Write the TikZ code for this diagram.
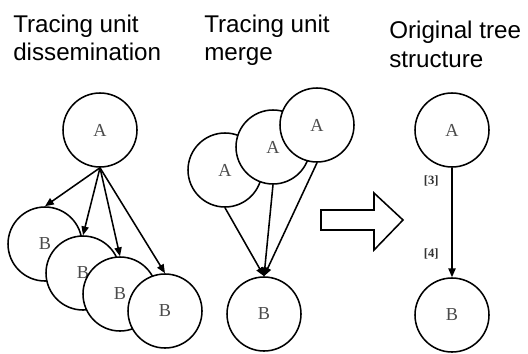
\documentclass[tikz,border=0pt]{standalone}
\usepackage{fontspec}
\setmainfont{Liberation Serif}
\newfontfamily\headfont{Liberation Sans}
\usepackage{tikz}
\usetikzlibrary{arrows, arrows.meta}
\usetikzlibrary{positioning}
\usepackage{xcolor}

\begin{document}
\begin{tikzpicture}[
	unit/.style={circle, draw, fill=white, line width=1.1pt, minimum size=1.85cm, inner sep=0pt,
		font=\fontsize{13}{15}\selectfont, text=black!70},
	head/.style={anchor=north west, inner sep=0pt, align=left,
		font=\headfont\fontsize{17.2}{20.6}\selectfont},
	link/.style={line width=1.1pt, -{Triangle[length=0.22cm,width=0.18cm]}},
	tag/.style={font=\bfseries\fontsize{9}{10}\selectfont, text=black!80}
]
\useasboundingbox (0,0) rectangle (13.2,8.825);

\node[head] (t1) at (0.325,8.47) {Tracing unit\\dissemination};
\node[head] (t2) at (5.1,8.47) {Tracing unit\\merge};
\node[head] (t3) at (9.725,8.31) {Original tree\\structure};

\node[unit] (a) at (2.5,5.575) {A};
\node[unit] (b1) at (1.125,2.725) {B};
\node[unit] (b2) at (2.075,2.0) {B};
\node[unit] (b3) at (3.0,1.475) {B};
\node[unit] (b4) at (4.125,1.05) {B};
\draw[link] (a.south) -- (b1.north);
\draw[link] (a.south) -- (b2.north);
\draw[link] (a.south) -- (b3.north);
\draw[link] (a.south) -- (b4.north);

\node[unit] (m1) at (5.625,4.575) {A};
\node[unit] (m2) at (6.825,5.15) {A};
\node[unit] (m3) at (7.925,5.7) {A};
\node[unit] (mb) at (6.6,0.975) {B};
\draw[link] (m1.south) -- (mb.north);
\draw[link] (m2.south) -- (mb.north);
\draw[link] (m3.south) -- (mb.north);

\draw[line width=1.1pt, line join=miter] (8.025,3.575) -- (9.35,3.575) -- (9.35,4.0)
	-- (10.075,3.325) -- (9.35,2.575) -- (9.35,3.075) -- (8.025,3.075) -- cycle;

\node[unit] (ra) at (11.3,5.575) {A};
\node[unit] (rb) at (11.3,0.95) {B};
\draw[link] (ra.south) -- node[tag, pos=0.12, left=0.2cm] {[3]}
	node[tag, pos=0.79, left=0.2cm] {[4]} (rb.north);
\end{tikzpicture}
\end{document}
